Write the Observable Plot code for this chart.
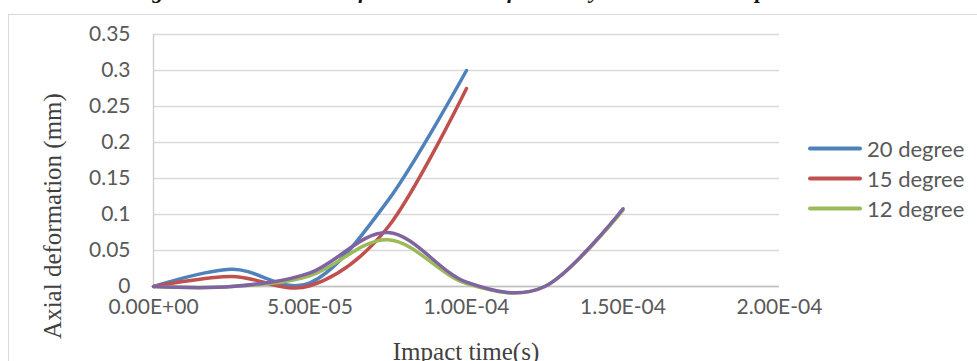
<!DOCTYPE html>
<html>
<head>
<meta charset="utf-8">
<script src="https://cdn.jsdelivr.net/npm/d3@7"></script>
<script src="https://cdn.jsdelivr.net/npm/@observablehq/plot@0.6"></script>
<style>
  html, body { margin: 0; padding: 0; background: #fff; }
  body { width: 977px; height: 361px; overflow: hidden; position: relative; }
  #frame { position: absolute; left: 8px; top: 14px; width: 1100px; height: 500px; border: 1px solid #d9d9d9; box-sizing: border-box; }
  #title { position: absolute; left: 124px; top: -20px; font: italic bold 22px "Liberation Serif", serif; line-height: 22px; letter-spacing: 3.8px; color: #111; white-space: nowrap; }
  #chart { position: absolute; left: 0; top: 0; }
  #ytitle { position: absolute; left: 53px; top: 216px; transform: translate(-50%, -50%) rotate(-90deg); font: 25px "Liberation Serif", serif; color: #404040; white-space: nowrap; }
  #xtitle { position: absolute; left: 466px; top: 352px; transform: translate(-50%, -50%); font: 25px "Liberation Serif", serif; color: #404040; white-space: nowrap; }
  #legend { position: absolute; left: 808px; top: 0; font: 22px Lato, sans-serif; color: #595959; }
  .item { position: absolute; left: 0; display: flex; align-items: center; white-space: nowrap; transform: translateY(-50%); }
  .swatch { width: 54px; height: 4px; border-radius: 2px; margin-right: 5px; }
</style>
</head>
<body>
<div id="frame"></div>
<div id="title">Figure 8: Axial deformation of the cylinder vs impact time</div>
<div id="chart"></div>
<div id="ytitle">Axial deformation (mm)</div>
<div id="xtitle">Impact time(s)</div>
<div id="legend"></div>
<script>
// ---- data ----
const times = [0, 2.5e-5, 5e-5, 7.5e-5, 1e-4, 1.25e-4, 1.5e-4];
const seriesNames = ["20 degree", "15 degree", "12 degree", "series 4"];
const seriesColors = ["#4F81BD", "#C0504D", "#9BBB59", "#8064A2"];
const deg20 = [0, 0.024, 0.005, 0.12, 0.300];
const deg15 = [0, 0.014, 0.001, 0.083, 0.275];
const deg12 = [0, 0.0, 0.015, 0.065, 0.004, 0.0, 0.106];
const deg4th = [0, 0.0, 0.019, 0.075, 0.006, 0.0, 0.108];
const legendNames = ["20 degree", "15 degree", "12 degree"];
const xTicks = [0, 5e-5, 1e-4, 1.5e-4, 2e-4];
const yTicks = [0, 0.05, 0.1, 0.15, 0.2, 0.25, 0.3, 0.35];

const valuesList = [deg20, deg15, deg12, deg4th];
const rows = [];
valuesList.forEach((vals, i) => {
  vals.forEach((v, j) => rows.push({s: seriesNames[i], t: times[j], v}));
});

function sci(v) {
  if (v === 0) return "0.00E+00";
  const e = Math.floor(Math.log10(v) + 1e-9);
  const m = v / Math.pow(10, e);
  return m.toFixed(2) + "E" + (e < 0 ? "-" : "+") + String(Math.abs(e)).padStart(2, "0");
}

const chart = Plot.plot({
  width: 977,
  height: 361,
  marginLeft: 153,
  marginRight: 198,
  marginTop: 34,
  marginBottom: 75,
  style: {fontFamily: "Lato, sans-serif", fontSize: "21px", color: "#595959", background: "transparent", overflow: "visible"},
  x: {domain: [0, 2e-4], label: null},
  y: {domain: [0, 0.35], label: null},
  color: {domain: seriesNames, range: seriesColors},
  marks: [
    Plot.gridY(yTicks, {stroke: "#d9d9d9", strokeOpacity: 1, strokeWidth: 1.5}),
    Plot.ruleY([0], {stroke: "#bfbfbf", strokeWidth: 1.5}),
    Plot.ruleX([0], {stroke: "#d0d0d0", strokeWidth: 1.5}),
    Plot.axisX({ticks: xTicks, tickFormat: sci, tickSize: 0, tickPadding: 13, label: null, fill: "#595959"}),
    Plot.axisY({ticks: yTicks, tickFormat: d => String(+d.toFixed(2)), tickSize: 0, tickPadding: 23, label: null, fill: "#595959"}),
    Plot.line(rows, {x: "t", y: "v", z: "s", stroke: "s", curve: "cardinal", strokeWidth: 3.5, strokeLinecap: "round", strokeLinejoin: "round"})
  ]
});
document.getElementById("chart").appendChild(chart);

const legend = document.getElementById("legend");
const legendY = [148, 178, 208];
legendNames.forEach((name, i) => {
  const item = document.createElement("div");
  item.className = "item";
  item.style.top = legendY[i] + "px";
  const sw = document.createElement("div");
  sw.className = "swatch";
  sw.style.background = seriesColors[seriesNames.indexOf(name)];
  const tx = document.createElement("span");
  tx.textContent = name;
  item.appendChild(sw);
  item.appendChild(tx);
  legend.appendChild(item);
});
</script>
</body>
</html>
